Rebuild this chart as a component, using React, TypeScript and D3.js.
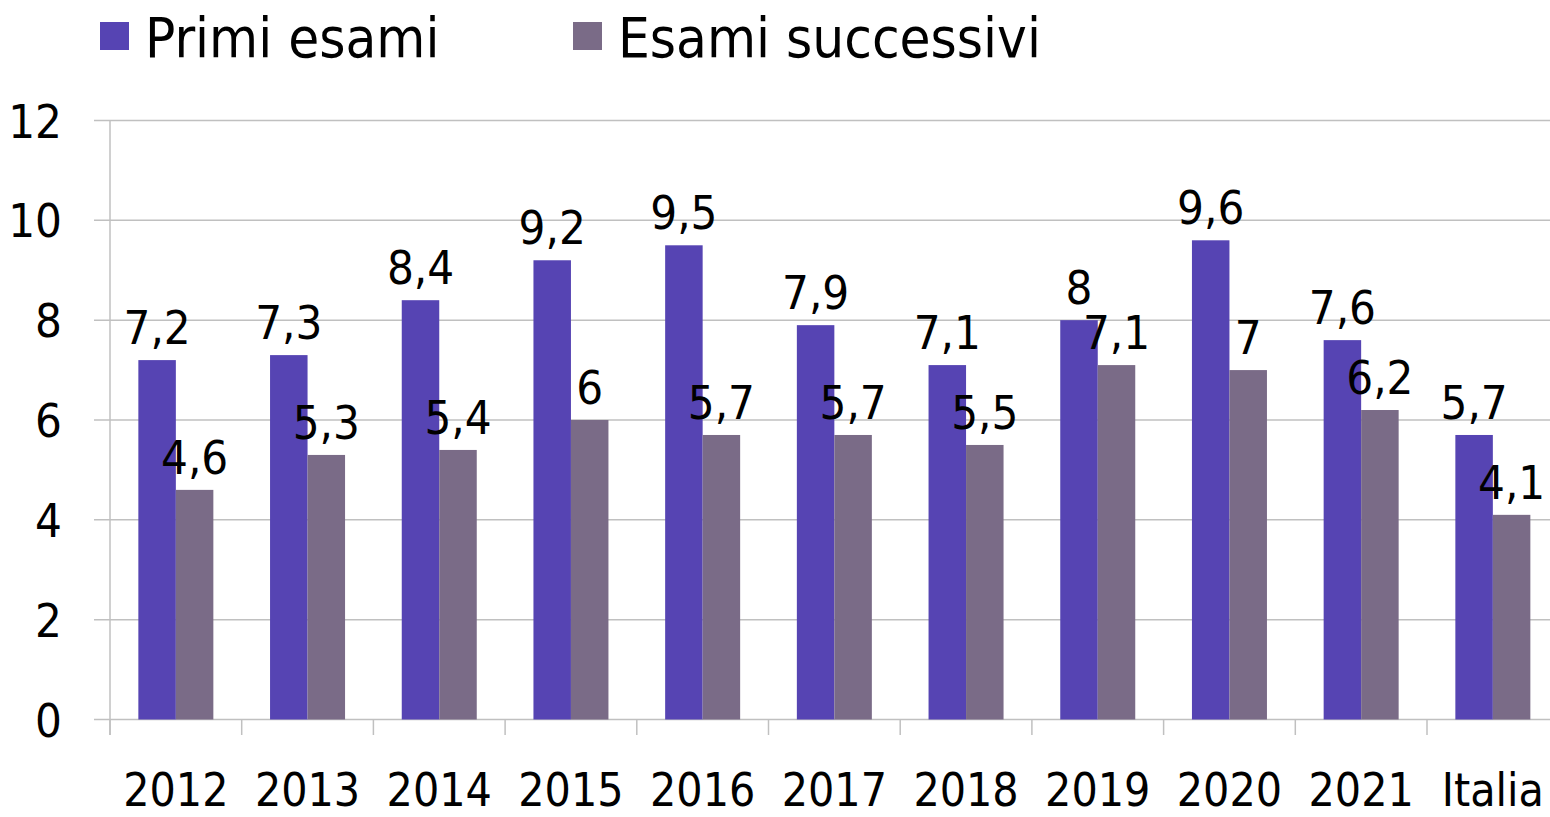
import React from 'react';
import { scaleBand, scaleLinear, range } from 'd3';

// data
const categories = ['2012', '2013', '2014', '2015', '2016', '2017', '2018', '2019', '2020', '2021', 'Italia'];
const primiEsami = [7.2, 7.3, 8.4, 9.2, 9.5, 7.9, 7.1, 8, 9.6, 7.6, 5.7];
const esamiSuccessivi = [4.6, 5.3, 5.4, 6, 5.7, 5.7, 5.5, 7.1, 7, 6.2, 4.1];
const seriesNames = ['Primi esami', 'Esami successivi'];
const yTicks = [0, 2, 4, 6, 8, 10, 12];

const colors = ['#5644B3', '#7A6B87'];
const FONT = '"DejaVu Sans Condensed", "DejaVu Sans", sans-serif';

const W = 1550;
const H = 817;

function App() {
  const left = 110;
  const x = scaleBand<string>().domain(categories).range([left, left + 131.7 * categories.length]);
  const x1 = scaleBand<string>().domain(seriesNames).range([0, x.bandwidth()]).paddingOuter(0.756);
  const y = scaleLinear().domain([0, 12]).range([719.5, 120.5]);

  const series = [primiEsami, esamiSuccessivi];
  const fmt = (v: number) => String(v).replace('.', ',');

  return (
    <svg width={W} height={H} style={{ display: 'block', position: 'absolute', left: 0, top: 0 }} fontFamily={FONT}>
      <rect width={W} height={H} fill="#fff" />

      {/* legend */}
      {seriesNames.map((name, i) => {
        const lx = i === 0 ? 100 : 573;
        return (
          <g key={name}>
            <rect x={lx} y={22} width={29} height={28} fill={colors[i]} />
            <text x={lx + 45} y={57} fontSize={56} fill="#000">{name}</text>
          </g>
        );
      })}

      {/* gridlines */}
      {yTicks.map(t => (
        <line key={t} x1={94} x2={x.range()[1]} y1={y(t)} y2={y(t)} stroke="#C0C0C0" strokeWidth={1.5} />
      ))}
      {yTicks.map(t => (
        <text key={'l' + t} x={62} y={y(t) + 17} textAnchor="end" fontSize={47} fill="#000">{t}</text>
      ))}

      {/* axis */}
      <line x1={left} x2={left} y1={y(12)} y2={735} stroke="#C0C0C0" strokeWidth={1.5} />
      {range(categories.length + 1).map(i => {
        const tx = left + x.step() * i;
        return <line key={'t' + i} x1={tx} x2={tx} y1={y(0)} y2={735} stroke="#C0C0C0" strokeWidth={1.5} />;
      })}

      {/* bars */}
      {series.map((vals, si) =>
        vals.map((v, ci) => {
          const bx = (x(categories[ci]) as number) + (x1(seriesNames[si]) as number);
          return (
            <rect key={si + '-' + ci} x={bx} y={y(v)} width={x1.bandwidth()} height={y(0) - y(v)} fill={colors[si]} />
          );
        })
      )}

      {/* value labels */}
      {series.map((vals, si) =>
        vals.map((v, ci) => {
          const bx = (x(categories[ci]) as number) + (x1(seriesNames[si]) as number) + x1.bandwidth() / 2;
          return (
            <text key={'v' + si + '-' + ci} x={bx} y={y(v) - 16} textAnchor="middle" fontSize={47} fill="#000">
              {fmt(v)}
            </text>
          );
        })
      )}

      {/* category labels */}
      {categories.map(c => (
        <text key={c} x={(x(c) as number) + x.bandwidth() / 2} y={806} textAnchor="middle" fontSize={46} fill="#000">
          {c}
        </text>
      ))}
    </svg>
  );
}

export default App;
